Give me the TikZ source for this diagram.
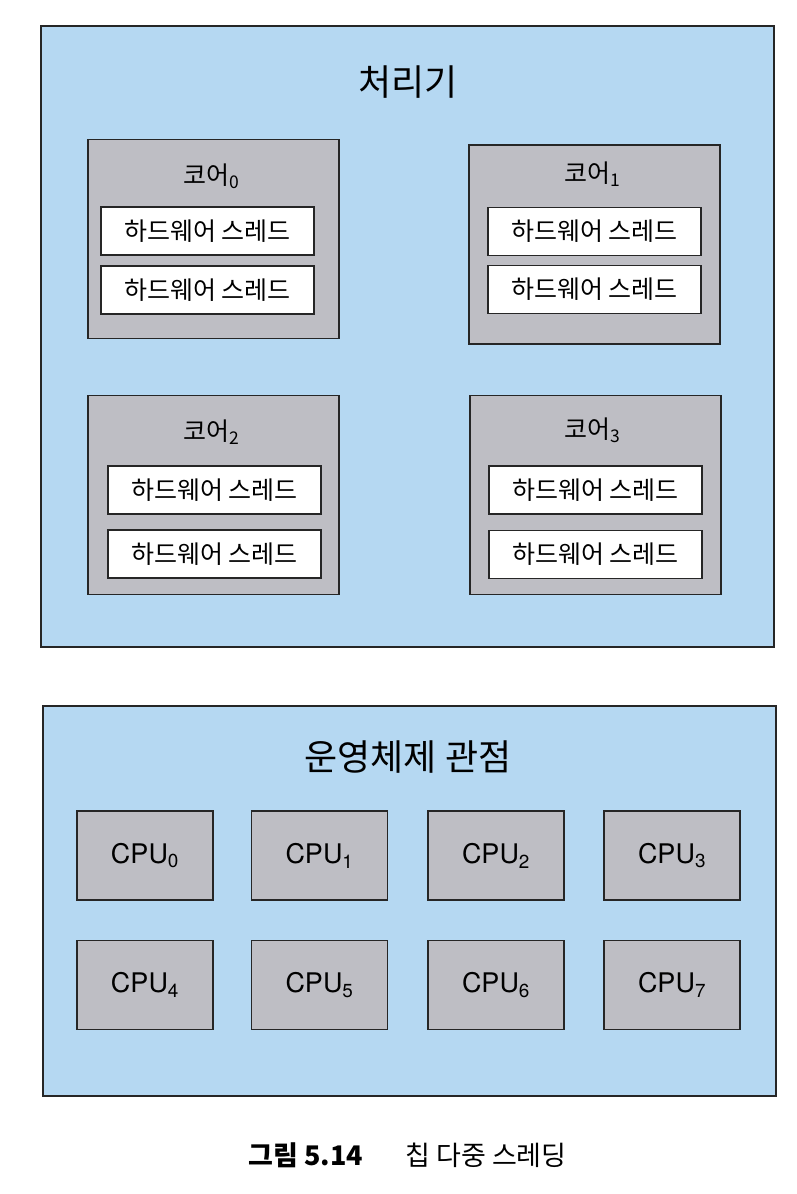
\documentclass[tikz,border=0pt]{standalone}
\usepackage{fontspec}
\setmainfont{Noto Sans CJK KR}
\newfontfamily\cpufont{TeX Gyre Heros}

\definecolor{chipblue}{RGB}{181,216,242}
\definecolor{coregray}{RGB}{190,190,196}

\tikzset{
	outerbox/.style={draw=black!85, line width=1.6pt, fill=chipblue, inner sep=0pt, minimum width=733pt},
	corebox/.style={draw=black!85, line width=1.6pt, fill=coregray, inner sep=0pt, minimum width=251pt, minimum height=199pt},
	threadbox/.style={draw=black!85, line width=1.6pt, fill=white, inner sep=0pt, minimum width=213pt, minimum height=48pt, font=\fontsize{25}{29}\selectfont},
	cpubox/.style={draw=black!85, line width=1.6pt, fill=coregray, inner sep=0pt, minimum width=136pt, minimum height=89pt, font=\fontsize{27}{31}\cpufont},
	bigtitle/.style={font=\fontsize{36}{42}\selectfont},
	corelabel/.style={font=\fontsize{25}{29}\selectfont}
}

\begin{document}
\begin{tikzpicture}[x=1pt,y=-1pt]

		\useasboundingbox (0,0) rectangle (796,1194);

		% processor
		\node[outerbox, minimum height=621pt] (proc) at (407.5,336.5) {};
		\node[bigtitle] (proctitle) at (408,82) {처리기};

		\node[corebox] (core0) at (213.5,239) {};
		\node[corebox] (core1) at (594.5,244.5) {};
		\node[corebox] (core2) at (213.5,495) {};
		\node[corebox] (core3) at (595.5,495) {};

		\node[corelabel] (core0lbl) at (212,176) {코어\textsubscript{0}};
		\node[corelabel] (core1lbl) at (593,174) {코어\textsubscript{1}};
		\node[corelabel] (core2lbl) at (212,432) {코어\textsubscript{2}};
		\node[corelabel] (core3lbl) at (593,430) {코어\textsubscript{3}};

		\node[threadbox] (hw0a) at (207.5,231) {하드웨어 스레드};
		\node[threadbox] (hw0b) at (207.5,290) {하드웨어 스레드};
		\node[threadbox] (hw1a) at (594.5,231.5) {하드웨어 스레드};
		\node[threadbox] (hw1b) at (594.5,289.5) {하드웨어 스레드};
		\node[threadbox] (hw2a) at (214.5,490) {하드웨어 스레드};
		\node[threadbox] (hw2b) at (214.5,554) {하드웨어 스레드};
		\node[threadbox] (hw3a) at (595.5,490) {하드웨어 스레드};
		\node[threadbox] (hw3b) at (595.5,554.5) {하드웨어 스레드};

		% operating system view
		\node[outerbox, minimum height=390pt] (osview) at (409.5,901) {};
		\node[bigtitle] (ostitle) at (408,757) {운영체제 관점};

		\node[cpubox] (cpu0) at (145,855.5) {CPU\textsubscript{0}};
		\node[cpubox] (cpu1) at (319.5,855.5) {CPU\textsubscript{1}};
		\node[cpubox] (cpu2) at (496,855.5) {CPU\textsubscript{2}};
		\node[cpubox] (cpu3) at (672,855.5) {CPU\textsubscript{3}};
		\node[cpubox] (cpu4) at (145,985) {CPU\textsubscript{4}};
		\node[cpubox] (cpu5) at (319.5,985) {CPU\textsubscript{5}};
		\node[cpubox] (cpu6) at (496,985) {CPU\textsubscript{6}};
		\node[cpubox] (cpu7) at (672,985) {CPU\textsubscript{7}};

		% caption
		\node[font=\fontsize{27}{31}\selectfont\bfseries] (capnum) at (306,1155) {그림 5.14};
		\node[font=\fontsize{27}{31}\selectfont] (captext) at (486,1155) {칩 다중 스레딩};

\end{tikzpicture}
\end{document}
